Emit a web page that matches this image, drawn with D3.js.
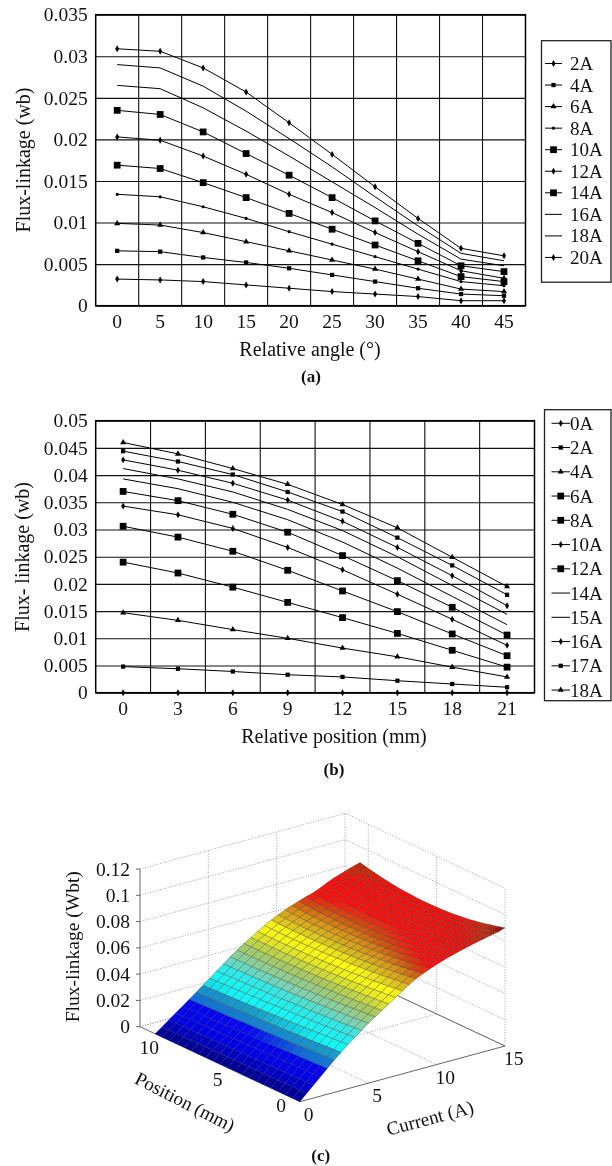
<!DOCTYPE html>
<html><head><meta charset="utf-8">
<script src="https://cdn.jsdelivr.net/npm/d3@7/dist/d3.min.js"></script>
<style>html,body{margin:0;padding:0;background:#fff}svg{display:block;filter:blur(.3px)}text{font-family:"Liberation Serif",serif;fill:#111}</style>
</head><body><div id="c"></div>
<script>
// ---- panel (a)
const angleCats=[0,5,10,15,20,25,30,35,40,45];
const angleTicks=[0,.005,.01,.015,.02,.025,.03,.035];
const angleNames=["2A","4A","6A","8A","10A","12A","14A","16A","18A","20A"];
const angleMarks=["d","s","t","-","S","d","S","n","n","d"];
const a2=[.0032,.0031,.0029,.0025,.0021,.0017,.0014,.0011,.0006,.0006];
const a4=[.0066,.0065,.0058,.0052,.0045,.0037,.0029,.0021,.0014,.0012];
const a6=[.0099,.0097,.0088,.0077,.0066,.0055,.0044,.0032,.002,.0017];
const a8=[.0134,.0131,.0119,.0105,.0089,.0074,.0059,.0044,.0029,.0024];
const a10=[.0169,.0165,.0148,.013,.0111,.0092,.0073,.0054,.0035,.0029];
const a12=[.0203,.0199,.018,.0158,.0134,.0112,.0088,.0065,.0042,.0033];
const a14=[.0235,.023,.0209,.0183,.0157,.013,.0102,.0075,.0048,.0041];
const a16=[.0265,.0261,.0238,.021,.018,.0149,.0118,.0086,.0056,.0048];
const a18=[.029,.0286,.0264,.0234,.0201,.0167,.0131,.0096,.0063,.0054];
const a20=[.0309,.0306,.0286,.0257,.022,.0182,.0143,.0105,.0069,.006];
const angleSeries=[a2,a4,a6,a8,a10,a12,a14,a16,a18,a20];
// ---- panel (b)
const posCats=[0,3,6,9,12,15,18,21];
const posTicks=[0,.005,.01,.015,.02,.025,.03,.035,.04,.045,.05];
const posNames=["0A","2A","4A","6A","8A","10A","12A","14A","15A","16A","17A","18A"];
const posMarks=["d","s","t","S","S","d","S","n","n","d","s","t"];
const b0=[0,0,0,0,0,0,0,0];
const b2=[.0048,.0044,.0039,.0033,.0029,.0022,.0016,.001];
const b4=[.0147,.0133,.0116,.01,.0082,.0066,.0047,.0029];
const b6=[.024,.022,.0194,.0166,.0138,.0109,.0078,.0047];
const b8=[.0306,.0286,.026,.0225,.0187,.0149,.0108,.0068];
const b10=[.0343,.0327,.0302,.0267,.0226,.0181,.0135,.0087];
const b12=[.037,.0353,.0328,.0295,.0252,.0206,.0157,.0106];
const b14=[.0393,.0375,.035,.0318,.0277,.0229,.0177,.0125];
const b15=[.0412,.0393,.0369,.0337,.0298,.025,.0197,.0144];
const b16=[.0428,.0409,.0385,.0354,.0315,.0267,.0215,.016];
const b17=[.0444,.0425,.0401,.0369,.0333,.0285,.0234,.018];
const b18=[.046,.0439,.0412,.0383,.0346,.0303,.0249,.0195];
const posSeries=[b0,b2,b4,b6,b8,b10,b12,b14,b15,b16,b17,b18];
// ---- panel (c): flux-linkage x 1e-4, one row per current step of 0.5 A, one column per 1/20 of the position span
const zTicks=[0,.02,.04,.06,.08,.1,.12];
const surfCurrentTicks=[0,5,10,15];
const surfPositionTicks=[0,5,10];
const surface=[
[0,0,0,0,0,0,0,0,0,0,0,0,0,0,0,0,0,0,0,0,0],
[50,49,49,48,48,47,46,46,45,45,44,43,43,42,42,41,40,40,39,39,38],
[98,97,96,95,94,92,91,90,89,88,87,86,85,84,83,81,80,79,78,77,76],
[147,145,144,142,141,139,137,136,134,133,131,129,128,126,125,123,121,120,118,117,115],
[196,193,191,188,186,184,181,179,176,174,172,170,168,166,164,162,160,158,156,154,152],
[245,242,239,235,232,229,226,223,221,218,215,212,210,207,205,202,200,198,195,193,191],
[290,286,283,279,275,272,269,265,262,259,256,253,250,247,245,242,239,237,235,232,230],
[335,331,327,323,319,315,311,308,304,301,298,294,291,288,285,283,280,277,275,272,270],
[375,371,366,362,358,354,351,347,343,340,337,333,330,327,325,322,319,317,314,312,310],
[415,410,406,401,397,393,389,385,381,378,375,371,368,365,363,360,358,356,354,352,350],
[455,450,445,440,436,431,427,423,419,416,413,409,406,404,401,399,397,395,393,391,390],
[490,485,480,475,470,466,462,458,454,451,448,445,443,440,438,436,434,433,432,431,430],
[525,519,514,509,504,500,496,492,488,485,482,479,477,474,473,471,470,469,468,467,467],
[560,554,548,543,539,534,530,525,522,518,516,513,511,508,507,505,504,503,503,503,503],
[595,589,583,577,572,567,562,558,554,550,547,544,542,540,538,537,535,535,535,535,535],
[630,623,616,610,604,599,594,589,585,581,578,575,572,570,568,567,566,566,566,566,567],
[665,657,650,643,636,630,624,619,615,611,607,604,601,599,597,596,595,595,595,596,597],
[695,686,678,671,664,657,651,646,641,637,633,630,627,625,623,622,622,622,622,623,625],
[720,711,702,694,687,680,674,668,663,659,655,652,649,647,646,645,645,645,646,648,650],
[742,732,723,714,706,699,693,687,682,677,674,670,668,666,665,665,665,666,668,670,673],
[762,751,741,732,724,716,709,703,698,693,690,686,684,683,682,682,682,684,686,689,693],
[780,768,758,748,739,731,724,717,712,707,703,700,698,697,696,697,698,700,703,707,712],
[796,784,772,762,752,743,736,729,723,718,715,712,710,709,709,710,712,715,718,723,729],
[811,798,785,774,764,755,747,740,734,729,725,722,720,720,720,722,724,728,733,738,745],
[825,811,798,786,776,767,758,751,745,741,737,735,733,733,734,737,740,744,750,757,765],
[838,824,811,799,788,779,771,764,758,754,751,749,749,749,751,755,759,765,772,780,790],
[850,835,822,810,799,790,782,776,771,767,764,763,763,764,767,771,777,783,792,801,812],
[861,846,833,821,810,801,793,787,781,778,776,775,775,777,781,785,791,799,808,818,830],
[872,857,843,831,821,811,804,797,792,789,787,786,787,790,794,799,806,814,824,835,848],
[882,867,853,841,830,821,814,807,803,800,798,798,799,802,806,812,820,828,839,851,864],
[900,884,870,857,846,836,829,822,817,814,812,812,813,816,820,826,834,843,854,866,880]
];
const colorStops=[0,.004,.01,.019,.021,.027,.03,.038,.043,.05,.056,.06,.064,.068,.071,.074,.082,.086,.0905];
const colorValues=["#00007a","#0000a8","#0000e0","#0808f0","#1070d8","#18a0c8","#10f8f8","#30e8e8","#80d0b0","#a8c860","#e8e820","#ffff10","#d8c020","#d89018","#d05010","#ff1010","#f01010","#c03010","#7a0000"];

const svg=d3.select("#c").append("svg").attr("width",612).attr("height",1166);

function marker(g,kind,x,y){
  if(kind==="n")return;
  const type={d:d3.symbolDiamond,s:d3.symbolSquare,t:d3.symbolTriangle,S:d3.symbolSquare,"-":d3.symbolCircle}[kind];
  const size={d:14,s:18,t:16,S:46,"-":8}[kind];
  g.append("path").attr("d",d3.symbol().type(type).size(size)()).attr("transform",`translate(${x},${y})`).attr("fill","#000");
}
function panel(o){
  const g=svg.append("g");
  const x=d3.scaleBand().domain(o.cats).range([o.l,o.r]);
  const y=d3.scaleLinear().domain(o.yDomain).range([o.b,o.t]);
  const ya=g.append("g").attr("transform",`translate(${o.l},0)`)
    .call(d3.axisLeft(y).tickValues(o.yTicks).tickFormat(d=>d===0?"0":String(d)).tickSize(-(o.r-o.l)).tickPadding(8));
  ya.select(".domain").remove();
  ya.selectAll("line").attr("stroke","#111").attr("stroke-width",1.1);
  ya.selectAll("text").attr("font-size",19.5);
  const xa=g.append("g").attr("transform",`translate(0,${o.b})`)
    .call(d3.axisBottom(x).tickSize(0).tickPadding(8));
  xa.select(".domain").remove();
  xa.selectAll("text").attr("font-size",19.5);
  g.append("g").selectAll("line").data(o.cats.slice(1)).join("line")
    .attr("x1",d=>x(d)).attr("x2",d=>x(d)).attr("y1",o.t).attr("y2",o.b).attr("stroke","#111").attr("stroke-width",1.1);
  g.append("rect").attr("x",o.l).attr("y",o.t).attr("width",o.r-o.l).attr("height",o.b-o.t).attr("fill","none").attr("stroke","#000").attr("stroke-width",1.5);
  const line=d3.line().x((d,i)=>x(o.cats[i])+x.bandwidth()/2).y(d=>y(d));
  o.series.forEach((s,k)=>{
    g.append("path").attr("d",line(s)).attr("fill","none").attr("stroke","#000").attr("stroke-width",1);
    const m=g.append("g");
    s.forEach((v,i)=>marker(m,o.marks[k],x(o.cats[i])+x.bandwidth()/2,y(v)));
  });
  g.append("text").attr("x",o.xTitle[0]).attr("y",o.xTitle[1]).attr("text-anchor","middle").attr("dominant-baseline","central").attr("font-size",20).text(o.xLabel);
  g.append("text").attr("transform",`translate(${o.yTitle[0]},${o.yTitle[1]}) rotate(-90)`).attr("text-anchor","middle").attr("dominant-baseline","central").attr("font-size",20).text(o.yLabel);
  g.append("text").attr("x",o.cap[0]).attr("y",o.cap[1]).attr("text-anchor","middle").attr("dominant-baseline","central").attr("font-size",17).attr("font-weight","bold").text(o.capText);
  const L=o.legend;
  g.append("rect").attr("x",L.x).attr("y",L.y).attr("width",L.w).attr("height",L.h).attr("fill","#fff").attr("stroke","#222").attr("stroke-width",1.3);
  o.names.forEach((n,i)=>{
    const yy=L.y0+i*L.dy;
    g.append("line").attr("x1",L.lx0).attr("x2",L.lx1).attr("y1",yy).attr("y2",yy).attr("stroke","#000").attr("stroke-width",1);
    marker(g,o.marks[i],(L.lx0+L.lx1)/2,yy);
    g.append("text").attr("x",L.tx).attr("y",yy).attr("dominant-baseline","central").attr("font-size",19).text(n);
  });
}
panel({cats:angleCats,yDomain:[0,.035],yTicks:angleTicks,series:angleSeries,marks:angleMarks,names:angleNames,
  l:95.7,r:525.5,t:14.7,b:305.7,xLabel:"Relative angle (°)",yLabel:"Flux-linkage (wb)",capText:"(a)",
  xTitle:[310,349],yTitle:[22.5,160],cap:[311,376],
  legend:{x:541.5,y:40.7,w:69.5,h:241.5,y0:63.5,dy:21.55,lx0:545,lx1:562,tx:570}});
panel({cats:posCats,yDomain:[0,.05],yTicks:posTicks,series:posSeries,marks:posMarks,names:posNames,
  l:95.7,r:534.5,t:420.7,b:692.7,xLabel:"Relative position (mm)",yLabel:"Flux- linkage (wb)",capText:"(b)",
  xTitle:[334,736],yTitle:[21.5,557],cap:[334,769],
  legend:{x:544.5,y:409.7,w:66.5,h:291,y0:423.3,dy:24.25,lx0:551.5,lx1:570,tx:570}});

// ---- panel (c)
const g3=svg.append("g");
const origin=[300,1101.7];
const cMax=15,pMax=11.7,posSpan=10.6;
const cx=d3.scaleLinear().domain([0,cMax]).range([0,205]);
const cy=d3.scaleLinear().domain([0,cMax]).range([0,-55.7]);
const px=d3.scaleLinear().domain([0,pMax]).range([0,-160]);
const py=d3.scaleLinear().domain([0,pMax]).range([0,-75]);
const zy=d3.scaleLinear().domain([0,.12]).range([0,-157.7]);
const proj=(c,p,z)=>[origin[0]+cx(c)+px(p),origin[1]+cy(c)+py(p)+zy(z)];
const seg=(a,b,cls)=>{
  const s=g3.append("line").attr("x1",a[0]).attr("y1",a[1]).attr("x2",b[0]).attr("y2",b[1]);
  if(cls==="dot")s.attr("stroke","#999").attr("stroke-width",.9).attr("stroke-dasharray","1 1.6");
  else s.attr("stroke","#666").attr("stroke-width",1);
};
zTicks.forEach(z=>{
  seg(proj(0,pMax,z),proj(cMax,pMax,z),"dot");
  seg(proj(cMax,pMax,z),proj(cMax,0,z),"dot");
});
surfCurrentTicks.slice(1,3).forEach(c=>{
  seg(proj(c,pMax,0),proj(c,pMax,.12),"dot");
  seg(proj(c,0,0),proj(c,pMax,0),"dot");
});
surfPositionTicks.slice(1).forEach(p=>{
  seg(proj(cMax,p,0),proj(cMax,p,.12),"dot");
  seg(proj(0,p,0),proj(cMax,p,0),"dot");
});
seg(proj(cMax,pMax,0),proj(cMax,pMax,.12),"dot");
seg(proj(cMax,0,0),proj(cMax,0,.12),"dot");
seg(proj(0,pMax,0),proj(cMax,pMax,0),"dot");
seg(proj(cMax,0,0),proj(cMax,pMax,0));
seg(proj(0,0,0),proj(cMax,0,0));
seg(proj(0,0,0),proj(0,pMax,0));
seg(proj(0,pMax,0),proj(0,pMax,.12));
zTicks.forEach(z=>{
  const a=proj(0,pMax,z);
  seg([a[0]-4,a[1]],a);
  g3.append("text").attr("x",130).attr("y",a[1]).attr("text-anchor","end").attr("dominant-baseline","central").attr("font-size",19.5).text(z===0?"0":String(z));
});
const color=d3.scaleLinear().domain(colorStops).range(colorValues).clamp(true);
const nc=surface.length-1,np=surface[0].length-1;
const cAt=i=>i*cMax/nc,pAt=k=>k*posSpan/np,zAt=(i,k)=>surface[i][k]*1e-4;
const cells=g3.append("g");
for(let i=nc-1;i>=0;i--)for(let k=np-1;k>=0;k--){
  const q=[[i,k],[i+1,k],[i+1,k+1],[i,k+1]];
  const pts=q.map(([a,b])=>proj(cAt(a),pAt(b),zAt(a,b)));
  const zMean=d3.mean(q,([a,b])=>zAt(a,b));
  cells.append("path").attr("d","M"+pts.join("L")+"Z").attr("fill",color(zMean))
    .attr("stroke",zMean<.02?"#00005a":"#3a3a2a").attr("stroke-opacity",zMean<.02?.3:.55).attr("stroke-width",.6);
}
surfCurrentTicks.forEach(c=>{
  const a=proj(c,0,0);
  g3.append("text").attr("x",a[0]+8.7).attr("y",a[1]+12.5).attr("text-anchor","middle").attr("dominant-baseline","central").attr("font-size",19.5).text(c);
});
surfPositionTicks.forEach(p=>{
  const a=proj(0,p,0);
  g3.append("text").attr("x",a[0]+(p===0?-19:-14)).attr("y",a[1]+(p===0?3.5:9.5)).attr("text-anchor","middle").attr("dominant-baseline","central").attr("font-size",19.5).text(p);
});
g3.append("text").attr("transform","translate(72.3,946.7) rotate(-90)").attr("text-anchor","middle").attr("dominant-baseline","central").attr("font-size",19.5).text("Flux-linkage (Wbt)");
g3.append("text").attr("transform","translate(185,1101.7) rotate(27)").attr("text-anchor","middle").attr("dominant-baseline","central").attr("font-size",19).text("Position (mm)");
g3.append("text").attr("transform","translate(430,1118) rotate(-15)").attr("text-anchor","middle").attr("dominant-baseline","central").attr("font-size",19).text("Current (A)");
g3.append("text").attr("x",320.7).attr("y",1155.7).attr("text-anchor","middle").attr("dominant-baseline","central").attr("font-size",17).attr("font-weight","bold").text("(c)");
</script></body></html>
